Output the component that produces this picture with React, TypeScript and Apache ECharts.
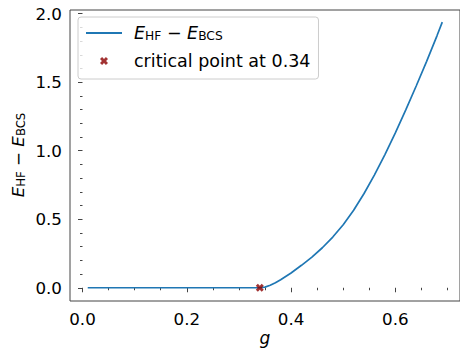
import React, { useEffect, useRef } from "react";
import * as echarts from "echarts";

const gValues = [0.01, 0.05, 0.1, 0.15, 0.2, 0.25, 0.3, 0.32, 0.34, 0.35, 0.36, 0.37, 0.38, 0.4, 0.42, 0.44, 0.46, 0.48, 0.5, 0.52, 0.54, 0.56, 0.58, 0.6, 0.62, 0.64, 0.66, 0.68, 0.69];
const energyGap = [0, 0, 0, 0, 0, 0, 0, 0, 0, 0.005, 0.018, 0.036, 0.058, 0.108, 0.164, 0.224, 0.292, 0.37, 0.46, 0.566, 0.688, 0.824, 0.972, 1.13, 1.298, 1.472, 1.652, 1.84, 1.938];
const criticalPoint = [0.34, 0];

const xMajorTicks = [0, 0.2, 0.4, 0.6];
const xMinorTicks = [0.05, 0.1, 0.15, 0.25, 0.3, 0.35, 0.45, 0.5, 0.55, 0.65, 0.7];
const yMajorTicks = [0, 0.5, 1, 1.5, 2];
const yMinorTicks = [0.1, 0.2, 0.3, 0.4, 0.6, 0.7, 0.8, 0.9, 1.1, 1.2, 1.3, 1.4, 1.6, 1.7, 1.8, 1.9];

const lineName = "EHF − EBCS";
const pointName = "critical point at 0.34";

const FONT = "DejaVu Sans";
const AX = "#444";
const FS = 16.7;
const LFS = 17.5;
const X_PATH = "path://M0,2.6 L2.6,0 L5,2.4 L7.4,0 L10,2.6 L7.6,5 L10,7.4 L7.4,10 L5,7.6 L2.6,10 L0,7.4 L2.4,5 Z";

const makeRich = (fs: number) => ({
  i: { fontStyle: "italic", fontSize: fs, fontFamily: FONT, color: "#000" },
  s: { fontSize: fs * 0.7, fontFamily: FONT, color: "#000", padding: [6, 0, 0, 0] },
  n: { fontSize: fs, fontFamily: FONT, color: "#000" },
  p: { fontSize: fs, fontFamily: FONT, width: 7 },
});

export default function App() {
  const ref = useRef<HTMLDivElement>(null);
  useEffect(() => {
    if (!ref.current) return;
    const chart = echarts.init(ref.current, undefined, { renderer: "svg" });
    const xMin = -0.024, xMax = 0.724, yMin = -0.0965, yMax = 2.0265;
    const baseX = {
      type: "value" as const,
      min: xMin,
      max: xMax,
      position: "bottom" as const,
      splitLine: { show: false },
      axisLine: { show: false },
    };
    const baseY = {
      type: "value" as const,
      min: yMin,
      max: yMax,
      position: "left" as const,
      splitLine: { show: false },
      axisLine: { show: false },
    };
    chart.setOption({
      animation: false,
      grid: {
        left: 70,
        top: 10,
        width: 394,
        height: 291,
        show: true,
        borderColor: AX,
        borderWidth: 1,
        backgroundColor: "transparent",
      },
      xAxis: [
        {
          ...baseX,
          axisTick: { show: true, length: 4.5, customValues: xMajorTicks, lineStyle: { color: AX } },
          axisLabel: {
            customValues: xMajorTicks,
            formatter: (v: number) => v.toFixed(1),
            fontSize: FS,
            fontFamily: FONT,
            color: "#000",
            margin: 9,
          },
        },
        {
          ...baseX,
          axisTick: { show: true, length: 2.5, customValues: xMinorTicks, lineStyle: { color: AX } },
          axisLabel: { show: false },
        },
      ],
      yAxis: [
        {
          ...baseY,
          axisTick: { show: true, length: 4.5, customValues: yMajorTicks, lineStyle: { color: AX } },
          axisLabel: {
            customValues: yMajorTicks,
            formatter: (v: number) => v.toFixed(1),
            fontSize: FS,
            fontFamily: FONT,
            color: "#000",
            margin: 8,
          },
        },
        {
          ...baseY,
          axisTick: { show: true, length: 2.5, customValues: yMinorTicks, lineStyle: { color: AX } },
          axisLabel: { show: false },
        },
      ],
      legend: {
        orient: "vertical",
        left: 78,
        top: 17,
        padding: [6, 8, 8, 7],
        itemGap: 8,
        itemWidth: 36,
        itemHeight: 8,
        itemTextGap: 13,
        backgroundColor: "rgba(255,255,255,0.8)",
        borderColor: "#cccccc",
        borderWidth: 1,
        borderRadius: 3,
        data: [
          { name: lineName, itemStyle: { color: "rgba(0,0,0,0)", borderWidth: 0 } },
          { name: pointName },
        ],
        formatter: (name: string) =>
          name === lineName ? "{p| }{i|E}{s|HF}{n| − }{i|E}{s|BCS}" : "{p| }{n|" + name + "}",
        textStyle: { fontSize: LFS, fontFamily: FONT, color: "#000", lineHeight: 20, rich: makeRich(LFS) },
      },
      series: [
        {
          name: lineName,
          type: "line",
          xAxisIndex: 0,
          yAxisIndex: 0,
          data: gValues.map((g, i) => [g, energyGap[i]]),
          symbol: "none",
          lineStyle: { color: "#1f77b4", width: 1.7 },
          itemStyle: { color: "#1f77b4" },
          z: 2,
        },
        {
          name: pointName,
          type: "scatter",
          xAxisIndex: 0,
          yAxisIndex: 0,
          data: [criticalPoint],
          symbol: X_PATH,
          symbolSize: 8,
          itemStyle: { color: "#8b0000" },
          z: 3,
        },
      ],
      graphic: [
        {
          type: "text",
          x: 265,
          y: 338,
          style: {
            text: "g",
            fontSize: 17,
            fontStyle: "italic",
            fontFamily: FONT,
            fill: "#000",
            align: "center",
            verticalAlign: "middle",
          },
        },
        {
          type: "text",
          x: 18,
          y: 155,
          rotation: Math.PI / 2,
          style: {
            text: "{i|E}{s|HF}{n| − }{i|E}{s|BCS}",
            rich: makeRich(FS),
            align: "center",
            verticalAlign: "middle",
          },
        },
      ],
    });
    return () => chart.dispose();
  }, []);
  return (
    <div
      ref={ref}
      style={{ position: "absolute", left: 0, top: 0, width: 460, height: 349, background: "#fff" }}
    />
  );
}
